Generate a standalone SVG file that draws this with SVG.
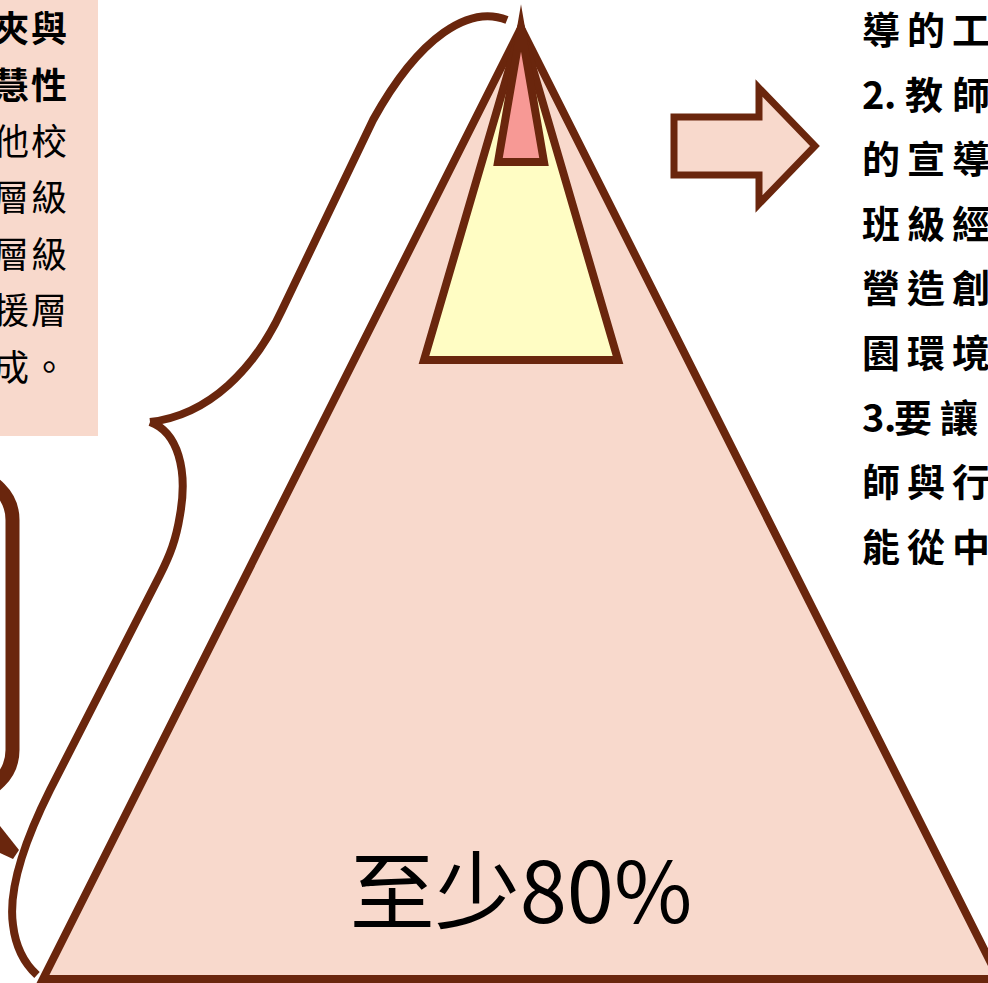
<svg xmlns="http://www.w3.org/2000/svg" width="988" height="983" viewBox="0 0 988 983">
<style>
.st{stroke:#6A260D;stroke-width:8;stroke-linejoin:miter;stroke-miterlimit:12}
.peach{fill:#F8D9CC}
.cjk{font-family:"Noto Sans CJK TC","Noto Sans CJK SC",sans-serif;fill:#000}
.lt{font-size:36px}
.rt{font-size:38px;font-weight:bold}
.b{font-weight:bold}
</style>
<rect width="988" height="983" fill="#FFFFFF"/>
<g id="left-textbox">
<rect x="0" y="0" width="98" height="436" class="peach"/>
<text class="cjk lt b" x="-7 31" y="42">夾與</text>
<text class="cjk lt b" x="-7 31" y="99">慧性</text>
<text class="cjk lt" x="-7 31" y="155">他校</text>
<text class="cjk lt" x="-7 31" y="211">層級</text>
<text class="cjk lt" x="-7 31" y="268">層級</text>
<text class="cjk lt" x="-7 31" y="324">援層</text>
<text class="cjk lt" x="-7 31" y="381">成。</text>
</g>
<g id="callout">
<rect x="-300" y="476" width="312.5" height="318" rx="44" fill="none" stroke="#6A260D" stroke-width="14"/>
<polygon points="0,826 19,850 13,859 0,853" fill="#6A260D"/>
</g>
<g id="pyramid">
<polygon id="base-tier" class="st peach" points="521,28 999,979 43,979"/>
<polygon id="middle-tier" class="st" fill="#FFFDC4" points="521,28 618,360 424,360"/>
<polygon id="top-tier" class="st" fill="#F79995" points="521,28 544,162 498,162"/>
<text class="cjk" x="521" y="923" font-size="85" text-anchor="middle" font-family="'Open Sans','Noto Sans CJK TC',sans-serif">至少80%</text>
</g>
<g id="connectors" fill="none" stroke="#6A260D" stroke-width="8">
<path id="brace" d="M507,20 C470,5 420,35 373,120 L282,310 C255,368 210,415 150,422 M150,422 C178,432 188,470 180,515 C176,540 170,555 160,575 L50,790 C25,840 8,890 13,925 C16,950 26,965 37,975"/>
</g>
<g id="arrow">
<polygon points="674,117 759,117 759,88 815,146 759,204 759,175 674,175" class="peach" stroke="#6A260D" stroke-width="7" stroke-miterlimit="10"/>
</g>
<g id="right-text" class="cjk rt">
<text x="862 907 952" y="44">導的工</text>
<text y="109" x="862 884 905 952">2.教師</text>
<text x="862 907 952" y="173">的宣導</text>
<text x="862 907 952" y="238">班級經</text>
<text x="862 907 952" y="302">營造創</text>
<text x="862 907 952" y="367">園環境</text>
<text y="432" x="862 884 894 940">3.要讓</text>
<text x="862 907 952" y="496">師與行</text>
<text x="862 907 952" y="561">能從中</text>
</g>
</svg>
